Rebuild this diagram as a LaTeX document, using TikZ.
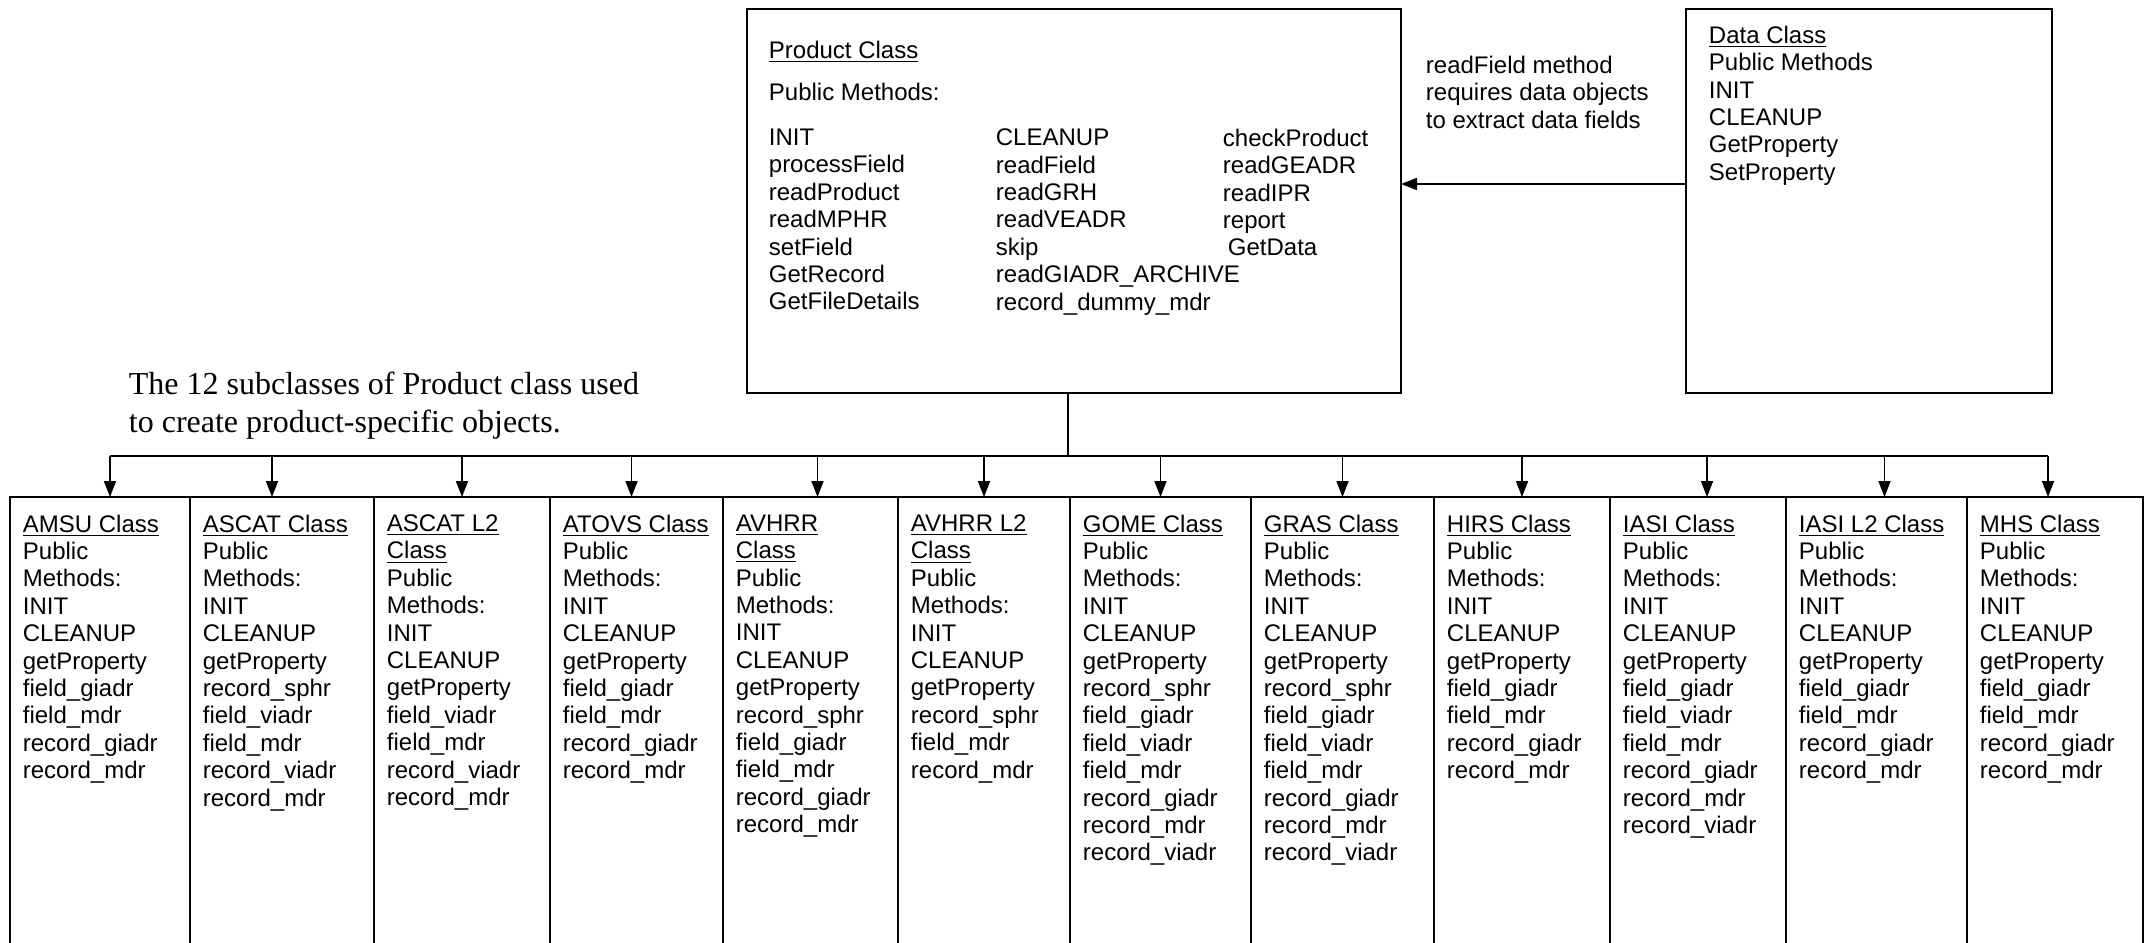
\documentclass[tikz,border=0pt]{standalone}
\usepackage{fontspec}
\setmainfont{Liberation Sans}
\newfontfamily\capfont{Liberation Serif}
\usetikzlibrary{arrows.meta}

\begin{document}
\begin{tikzpicture}[x=0.5pt, y=-0.5pt, line width=0.9pt,
  box/.style={draw, outer sep=0pt, inner sep=0pt, anchor=north west},
  cls/.style={box, minimum height=240pt},
  txt/.style={align=left, anchor=north west, inner sep=0pt, font=\fontsize{12}{13.7}\selectfont},
  arr/.style={-{Triangle[width=6pt,length=8pt]}}]
\useasboundingbox (0,0) rectangle (2150,942);
\clip (0,0) rectangle (2150,942);

\node[box, minimum width=327pt, minimum height=192pt](product) at (747,9) {};
\node[box, minimum width=183pt, minimum height=192pt](data) at (1686,9) {};

\node[txt, anchor=base west](ptitle) at (768,58) {\underline{Product Class}};
\node[txt, anchor=base west](pmeth) at (768,100) {Public Methods:};
\node[txt](pcol1) at (768,128) {INIT\\processField\\readProduct\\readMPHR\\setField\\GetRecord\\GetFileDetails};
\node[txt](pcol2) at (995,128) {CLEANUP\\readField\\readGRH\\readVEADR\\skip\\readGIADR\_ARCHIVE\\record\_dummy\_mdr};
\node[txt](pcol3) at (1222,128) {checkProduct\\readGEADR\\readIPR\\report\\\hspace{2.5pt}GetData};
\node[txt](dtext) at (1708,25) {\underline{Data Class}\\Public Methods\\INIT\\CLEANUP\\GetProperty\\SetProperty};
\node[txt](note) at (1425,55) {readField method\\requires data objects\\to extract data fields};
\node[txt, font=\capfont\fontsize{16}{19}\selectfont](caption) at (128,371) {The 12 subclasses of Product class used\\to create product-specific objects.};

\node[cls, minimum width=90pt](amsu) at (10,497) {};
\node[cls, minimum width=92pt](ascat) at (amsu.north east) {};
\node[cls, minimum width=88pt](ascatl) at (ascat.north east) {};
\node[cls, minimum width=86.5pt](atovs) at (ascatl.north east) {};
\node[cls, minimum width=87.5pt](avhrr) at (atovs.north east) {};
\node[cls, minimum width=86pt](avhrrl) at (avhrr.north east) {};
\node[cls, minimum width=90.5pt](gome) at (avhrrl.north east) {};
\node[cls, minimum width=91.5pt](gras) at (gome.north east) {};
\node[cls, minimum width=88pt](hirs) at (gras.north east) {};
\node[cls, minimum width=88pt](iasi) at (hirs.north east) {};
\node[cls, minimum width=90.5pt](iasil) at (iasi.north east) {};
\node[cls, minimum width=88pt](mhs) at (iasil.north east) {};

\node[txt] at ([xshift=6pt, yshift=-8.4pt]amsu.north west) {\underline{AMSU Class}\\Public\\Methods:\\INIT\\CLEANUP\\getProperty\\field\_giadr\\field\_mdr\\record\_giadr\\record\_mdr};
\node[txt] at ([xshift=6pt, yshift=-8.4pt]ascat.north west) {\underline{ASCAT Class}\\Public\\Methods:\\INIT\\CLEANUP\\getProperty\\record\_sphr\\field\_viadr\\field\_mdr\\record\_viadr\\record\_mdr};
\node[txt] at ([xshift=6pt, yshift=-8.4pt]ascatl.north west) {\underline{ASCAT L2}\\\underline{Class}\\Public\\Methods:\\INIT\\CLEANUP\\getProperty\\field\_viadr\\field\_mdr\\record\_viadr\\record\_mdr};
\node[txt] at ([xshift=6pt, yshift=-8.4pt]atovs.north west) {\underline{ATOVS Class}\\Public\\Methods:\\INIT\\CLEANUP\\getProperty\\field\_giadr\\field\_mdr\\record\_giadr\\record\_mdr};
\node[txt] at ([xshift=6pt, yshift=-8.4pt]avhrr.north west) {\underline{AVHRR}\\\underline{Class}\\Public\\Methods:\\INIT\\CLEANUP\\getProperty\\record\_sphr\\field\_giadr\\field\_mdr\\record\_giadr\\record\_mdr};
\node[txt] at ([xshift=6pt, yshift=-8.4pt]avhrrl.north west) {\underline{AVHRR L2}\\\underline{Class}\\Public\\Methods:\\INIT\\CLEANUP\\getProperty\\record\_sphr\\field\_mdr\\record\_mdr};
\node[txt] at ([xshift=6pt, yshift=-8.4pt]gome.north west) {\underline{GOME Class}\\Public\\Methods:\\INIT\\CLEANUP\\getProperty\\record\_sphr\\field\_giadr\\field\_viadr\\field\_mdr\\record\_giadr\\record\_mdr\\record\_viadr};
\node[txt] at ([xshift=6pt, yshift=-8.4pt]gras.north west) {\underline{GRAS Class}\\Public\\Methods:\\INIT\\CLEANUP\\getProperty\\record\_sphr\\field\_giadr\\field\_viadr\\field\_mdr\\record\_giadr\\record\_mdr\\record\_viadr};
\node[txt] at ([xshift=6pt, yshift=-8.4pt]hirs.north west) {\underline{HIRS Class}\\Public\\Methods:\\INIT\\CLEANUP\\getProperty\\field\_giadr\\field\_mdr\\record\_giadr\\record\_mdr};
\node[txt] at ([xshift=6pt, yshift=-8.4pt]iasi.north west) {\underline{IASI Class}\\Public\\Methods:\\INIT\\CLEANUP\\getProperty\\field\_giadr\\field\_viadr\\field\_mdr\\record\_giadr\\record\_mdr\\record\_viadr};
\node[txt] at ([xshift=6pt, yshift=-8.4pt]iasil.north west) {\underline{IASI L2 Class}\\Public\\Methods:\\INIT\\CLEANUP\\getProperty\\field\_giadr\\field\_mdr\\record\_giadr\\record\_mdr};
\node[txt] at ([xshift=6pt, yshift=-8.4pt]mhs.north west) {\underline{MHS Class}\\Public\\Methods:\\INIT\\CLEANUP\\getProperty\\field\_giadr\\field\_mdr\\record\_giadr\\record\_mdr};

\coordinate (bus) at (1068,456);
\draw[arr] ([yshift=8.5pt]data.west) -- ([yshift=8.5pt]product.east);
\draw ([xshift=-3pt]product.south) -- ([xshift=-3pt]product.south |- bus);
\draw ([xshift=5pt]amsu.north |- bus) -- ([xshift=-3.5pt]mhs.north |- bus);
\draw[arr] ([xshift=5pt]amsu.north |- bus) -- ([xshift=5pt]amsu.north);
\draw[arr] ([xshift=-5pt]ascat.north |- bus) -- ([xshift=-5pt]ascat.north);
\draw[arr] (ascatl.north |- bus) -- (ascatl.north);
\draw[arr] ([xshift=-2.5pt]atovs.north |- bus) -- ([xshift=-2.5pt]atovs.north);
\draw[arr] ([xshift=3.5pt]avhrr.north |- bus) -- ([xshift=3.5pt]avhrr.north);
\draw[arr] (avhrrl.north |- bus) -- (avhrrl.north);
\draw[arr] (gome.north |- bus) -- (gome.north);
\draw[arr] (gras.north |- bus) -- (gras.north);
\draw[arr] (hirs.north |- bus) -- (hirs.north);
\draw[arr] ([xshift=4.5pt]iasi.north |- bus) -- ([xshift=4.5pt]iasi.north);
\draw[arr] ([xshift=4pt]iasil.north |- bus) -- ([xshift=4pt]iasil.north);
\draw[arr] ([xshift=-3.5pt]mhs.north |- bus) -- ([xshift=-3.5pt]mhs.north);
\end{tikzpicture}
\end{document}
